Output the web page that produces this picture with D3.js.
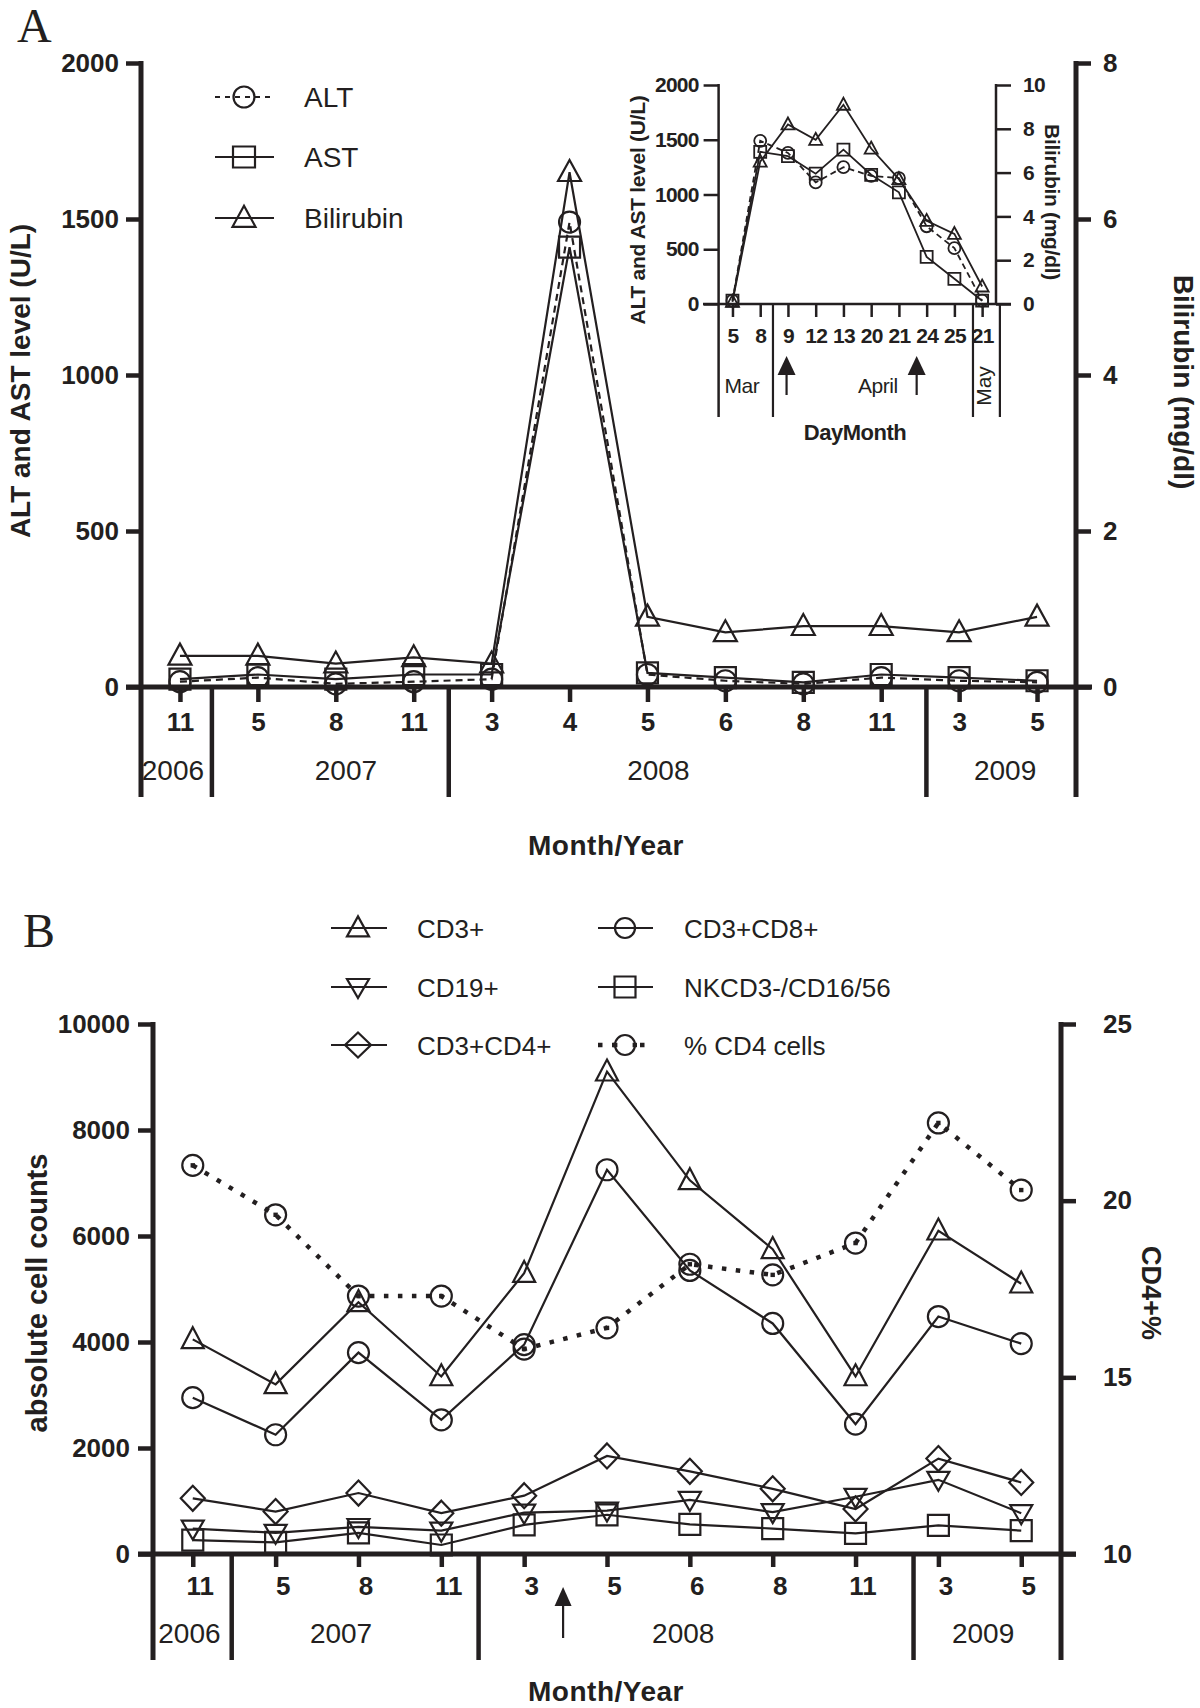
<!DOCTYPE html>
<html><head><meta charset="utf-8">
<script src="https://cdn.jsdelivr.net/npm/d3@7"></script>
<style>
body{margin:0;background:#fff}
svg{display:block}
text{font-family:"Liberation Sans",Arial,Helvetica,sans-serif;fill:#231f20}
</style>
</head><body>
<svg id="chart" width="1200" height="1708"></svg>
<script>
// ---------- DATA ----------
// Panel A (main)
const monthsA = ["11","5","8","11","3","4","5","6","8","11","3","5"];
const yearsA = ["2006","2007","2008","2009"];
const altA  = [17,30,10,17,25,1490,40,20,10,30,20,15];
const astA  = [25,40,25,40,40,1410,45,30,15,40,30,20];
const biliA = [0.4,0.4,0.3,0.38,0.3,6.6,0.9,0.7,0.78,0.78,0.7,0.9];
const ticksA = [0,500,1000,1500,2000];
const ticksABili = [0,2,4,6,8];
const legendA = ["ALT","AST","Bilirubin"];

// Panel A (inset)
const daysInset = ["5","8","9","12","13","20","21","24","25","21"];
const monthsInset = ["Mar","April","May"];
const altInset  = [30,1490,1380,1110,1250,1170,1150,710,510,30];
const astInset  = [30,1390,1350,1190,1410,1180,1020,430,230,30];
const biliInset = [0.1,6.5,8.2,7.5,9.1,7.1,5.7,3.8,3.2,0.8];
const ticksInset = [0,500,1000,1500,2000];
const ticksInsetBili = [0,2,4,6,8,10];

// Panel B
const monthsB = ["11","5","8","11","3","5","6","8","11","3","5"];
const yearsB = ["2006","2007","2008","2009"];
const cd3    = [4050,3200,4750,3350,5300,9100,7050,5750,3350,6100,5100];
const cd8    = [2950,2250,3800,2530,3950,7250,5350,4350,2450,4480,3970];
const cd4    = [1050,800,1150,770,1100,1850,1560,1230,850,1800,1350];
const cd19   = [480,400,510,440,780,820,1020,790,1080,1400,770];
const nk     = [260,220,400,170,550,740,560,480,390,540,440];
const cd4pct = [21.0,19.6,17.3,17.3,15.8,16.4,18.2,17.9,18.8,22.2,20.3];
const ticksB = [0,2000,4000,6000,8000,10000];
const ticksPct = [10,15,20,25];
const legendB = ["CD3+","CD19+","CD3+CD4+","CD3+CD8+","NKCD3-/CD16/56","% CD4 cells"];

// ---------- HELPERS ----------
const INK = "#231f20";
const FONT = "'Liberation Sans', Arial, Helvetica, sans-serif";
const svg = d3.select("#chart");

function sym(type, x, y, w, h) {
  switch (type) {
    case "circle": { const r = w / 2; return `M${x - r},${y}a${r},${r} 0 1,0 ${2 * r},0a${r},${r} 0 1,0 ${-2 * r},0Z`; }
    case "square": return `M${x - w / 2},${y - h / 2}h${w}v${h}h${-w}Z`;
    case "up": return `M${x},${y - 0.58 * h}L${x + w / 2},${y + 0.42 * h}L${x - w / 2},${y + 0.42 * h}Z`;
    case "down": return `M${x},${y + 0.58 * h}L${x + w / 2},${y - 0.42 * h}L${x - w / 2},${y - 0.42 * h}Z`;
    case "diamond": return `M${x},${y - h / 2}L${x + w / 2},${y}L${x},${y + h / 2}L${x - w / 2},${y}Z`;
  }
}
function seriesLine(g, vals, xs, ys, lw, dash) {
  g.append("path")
    .attr("d", d3.line().x((d, i) => xs(i)).y(d => ys(d))(vals))
    .attr("fill", "none").attr("stroke", INK).attr("stroke-width", lw)
    .attr("stroke-dasharray", dash || null).attr("stroke-linejoin", "miter");
}
function seriesMarks(g, vals, xs, ys, type, w, h, mw) {
  g.selectAll(null).data(vals).join("path")
    .attr("d", (d, i) => sym(type, xs(i), ys(d), w, h))
    .attr("fill", "none").attr("stroke", INK).attr("stroke-width", mw);
}
function line(x1, y1, x2, y2, w) {
  return svg.append("line").attr("x1", x1).attr("y1", y1).attr("x2", x2).attr("y2", y2)
    .attr("stroke", INK).attr("stroke-width", w);
}
function styleAxis(sel, fs, weight, tw, ls) {
  sel.attr("font-family", FONT).attr("font-size", fs);
  sel.select(".domain").remove();
  sel.selectAll(".tick line").attr("stroke", INK).attr("stroke-width", tw);
  sel.selectAll(".tick text").attr("fill", INK).style("font-weight", weight)
    .style("letter-spacing", ls ? ls + "px" : null);
}
function label(x, y, txt, fs, weight, anchor, rot, extra) {
  const t = svg.append("text").attr("font-size", fs).attr("font-weight", weight || "normal")
    .attr("text-anchor", anchor || "middle").text(txt);
  if (rot) t.attr("transform", `translate(${x},${y}) rotate(${rot})`).attr("dy", "0.35em");
  else t.attr("x", x).attr("y", y);
  if (extra) extra(t);
  return t;
}
function arrow(x, yb, yt, hw, hh, lw) {
  line(x, yb, x, yt + hh - 1, lw);
  svg.append("path").attr("d", `M${x},${yt}L${x + hw / 2},${yt + hh}L${x - hw / 2},${yt + hh}Z`).attr("fill", INK);
}

// ---------- PANEL A MAIN ----------
const xA = d3.scalePoint().domain(d3.range(monthsA.length)).range([141, 1076]).padding(0.5);
const yA = d3.scaleLinear().domain([0, 2000]).range([687, 63]);
const yABili = d3.scaleLinear().domain([0, 8]).range([687, 63]);
const stepA = xA.step();

label(17, 42, "A", 48, "normal", "start", 0, t => t.style("font-family", "'Liberation Serif', 'Times New Roman', serif"));

line(141, 61, 141, 797, 5);
line(1076, 61, 1076, 797, 5);
line(126, 687, 1092, 687, 5);
[0.41, 3.45, 9.58].forEach(k => line(xA(0) + stepA * k, 687, xA(0) + stepA * k, 797, 4.5));

svg.append("g").attr("transform", "translate(141,0)")
  .call(d3.axisLeft(yA).tickValues(ticksA).tickSize(15).tickPadding(7).tickFormat(d3.format("d")))
  .call(s => styleAxis(s, 26, "bold", 4.5));
svg.append("g").attr("transform", "translate(1076,0)")
  .call(d3.axisRight(yABili).tickValues(ticksABili).tickSize(15).tickPadding(12))
  .call(s => styleAxis(s, 26, "bold", 4.5));
svg.append("g").attr("transform", "translate(0,687)")
  .call(d3.axisBottom(xA).tickSize(15).tickPadding(11).tickFormat(i => monthsA[i]))
  .call(s => styleAxis(s, 26, "bold", 4.5));

[-0.09, 2.13, 6.14, 10.59].forEach((k, i) => label(xA(0) + stepA * k, 780, yearsA[i], 28, "normal"));

label(606, 855, "Month/Year", 28, "bold", "middle", 0, t => t.style("letter-spacing", "0.5px"));
label(20, 381, "ALT and AST level (U/L)", 28, "bold", "middle", -90);
label(1184, 382, "Bilirubin (mg/dl)", 28, "bold", "middle", 90);

const gA = svg.append("g");
seriesLine(gA, altA, xA, yA, 2.2, "7 5");
seriesLine(gA, astA, xA, yA, 2.2);
seriesLine(gA, biliA, xA, yABili, 2.2);
seriesMarks(gA, biliA, xA, yABili, "up", 23, 21, 2.2);
seriesMarks(gA, astA, xA, yA, "square", 21, 21, 2.2);
seriesMarks(gA, altA, xA, yA, "circle", 21, 21, 2.2);

// legend A
const legRowsA = [97, 157, 218];
const legTypesA = [["circle", 21, 21, "5 5"], ["square", 22, 21, null], ["up", 23, 21, null]];
legendA.forEach((name, i) => {
  const y = legRowsA[i], t = legTypesA[i];
  const ln = line(215, y, 274, y, 2.2);
  if (t[3]) ln.attr("stroke-dasharray", t[3]);
  svg.append("path").attr("d", sym(t[0], 244, y, t[1], t[2])).attr("fill", "none").attr("stroke", INK).attr("stroke-width", 2.2);
  label(304, y + 10, name, 28, "normal", "start");
});

// ---------- PANEL A INSET ----------
const xI = d3.scalePoint().domain(d3.range(daysInset.length)).range([718.6, 996]).padding(0.5);
const yI = d3.scaleLinear().domain([0, 2000]).range([304, 85]);
const yIBili = d3.scaleLinear().domain([0, 10]).range([304, 85]);
const stepI = xI.step();

line(718.6, 84, 718.6, 417, 2.5);
line(996, 84, 996, 304, 2.5);
line(703, 304, 1011, 304, 2.5);
[1.46, 8.67, 9.64].forEach(k => line(xI(0) + stepI * k, 304, xI(0) + stepI * k, 417, 2.2));

svg.append("g").attr("transform", "translate(718.6,0)")
  .call(d3.axisLeft(yI).tickValues(ticksInset).tickSize(15).tickPadding(5).tickFormat(d3.format("d")))
  .call(s => styleAxis(s, 21, "bold", 2.5, -0.8));
svg.append("g").attr("transform", "translate(996,0)")
  .call(d3.axisRight(yIBili).tickValues(ticksInsetBili).tickSize(15).tickPadding(12))
  .call(s => styleAxis(s, 21, "bold", 2.5, -0.8));
svg.append("g").attr("transform", "translate(0,304)")
  .call(d3.axisBottom(xI).tickSize(13).tickPadding(11).tickFormat(i => daysInset[i]))
  .call(s => styleAxis(s, 21, "bold", 2.5, -0.8));

label(xI(0) + stepI * 0.34, 393, monthsInset[0], 21, "normal", "middle", 0, t => t.style("letter-spacing", "-0.5px"));
label(xI(0) + stepI * 5.24, 393, monthsInset[1], 21, "normal", "middle", 0, t => t.style("letter-spacing", "-0.5px"));
label(xI(0) + stepI * 9.07, 386, monthsInset[2], 21, "normal", "middle", -90);

arrow(xI(0) + stepI * 1.95, 395, 356, 18, 19, 2.2);
arrow(xI(0) + stepI * 6.64, 395, 356, 18, 19, 2.2);

label(855, 440, "DayMonth", 22, "bold", "middle", 0, t => t.style("letter-spacing", "-0.5px"));
label(638, 210, "ALT and AST level (U/L)", 21, "bold", "middle", -90, t => t.style("letter-spacing", "-0.3px"));
label(1052, 202, "Bilirubin (mg/dl)", 21, "bold", "middle", 90, t => t.style("letter-spacing", "-0.3px"));

const gI = svg.append("g");
seriesLine(gI, altInset, xI, yI, 1.8, "6 4");
seriesLine(gI, astInset, xI, yI, 1.8);
seriesLine(gI, biliInset, xI, yIBili, 1.8);
seriesMarks(gI, biliInset, xI, yIBili, "up", 13, 12, 1.8);
seriesMarks(gI, astInset, xI, yI, "square", 12, 12, 1.8);
seriesMarks(gI, altInset, xI, yI, "circle", 12, 12, 1.8);

// ---------- PANEL B ----------
const xB = d3.scalePoint().domain(d3.range(monthsB.length)).range([153, 1061]).padding(0.48);
const yB = d3.scaleLinear().domain([0, 10000]).range([1554, 1024]);
const yP = d3.scaleLinear().domain([10, 25]).range([1554, 1024]);
const stepB = xB.step();

label(23, 947, "B", 48, "normal", "start", 0, t => t.style("font-family", "'Liberation Serif', 'Times New Roman', serif"));

line(153, 1022, 153, 1660, 5);
line(1061, 1022, 1061, 1660, 5);
line(138, 1554, 1076, 1554, 5);
[0.47, 3.45, 8.70].forEach(k => line(xB(0) + stepB * k, 1554, xB(0) + stepB * k, 1660, 4.5));

svg.append("g").attr("transform", "translate(153,0)")
  .call(d3.axisLeft(yB).tickValues(ticksB).tickSize(15).tickPadding(8).tickFormat(d3.format("d")))
  .call(s => styleAxis(s, 26, "bold", 4.5));
svg.append("g").attr("transform", "translate(1061,0)")
  .call(d3.axisRight(yP).tickValues(ticksPct).tickSize(15).tickPadding(27))
  .call(s => styleAxis(s, 26, "bold", 4.5));
svg.append("g").attr("transform", "translate(0,1554)")
  .call(d3.axisBottom(xB).tickSize(13).tickPadding(10).tickFormat(i => monthsB[i]))
  .call(s => { styleAxis(s, 26, "bold", 4.5); s.selectAll(".tick text").attr("dx", 7); });

[-0.04, 1.79, 5.92, 9.54].forEach((k, i) => label(xB(0) + stepB * k, 1643, yearsB[i], 28, "normal"));
arrow(xB(0) + stepB * 4.47, 1638, 1587, 17, 19, 2.2);

label(606, 1701, "Month/Year", 28, "bold", "middle", 0, t => t.style("letter-spacing", "0.5px"));
label(37, 1293, "absolute cell counts", 29, "bold", "middle", -90);
label(1151, 1293, "CD4+%", 27, "bold", "middle", 90);

const gB = svg.append("g");
seriesLine(gB, cd4pct, xB, yP, 4.5, "4.5 9.5");
seriesLine(gB, cd3, xB, yB, 2.2);
seriesLine(gB, cd8, xB, yB, 2.2);
seriesLine(gB, cd4, xB, yB, 2.2);
seriesLine(gB, cd19, xB, yB, 2.2);
seriesLine(gB, nk, xB, yB, 2.2);
seriesMarks(gB, cd3, xB, yB, "up", 22, 21, 2.2);
seriesMarks(gB, cd8, xB, yB, "circle", 21, 21, 2.2);
seriesMarks(gB, cd4, xB, yB, "diamond", 24, 25, 2.2);
seriesMarks(gB, cd19, xB, yB, "down", 22, 19, 2.2);
seriesMarks(gB, nk, xB, yB, "square", 21, 21, 2.2);
seriesMarks(gB, cd4pct, xB, yP, "circle", 21, 21, 2.2);
gB.selectAll(null).data(cd4pct).join("rect")
  .attr("x", (d, i) => xB(i) - 2.2).attr("y", d => yP(d) - 2.2)
  .attr("width", 4.4).attr("height", 4.4).attr("fill", INK);

// legend B
const legRowsB = [928, 987, 1045];
const legColsB = [{l: 331, r: 387, m: 358, t: 417}, {l: 598, r: 653, m: 625, t: 684}];
const legTypesB = [["up", 22, 20], ["down", 22, 19], ["diamond", 26, 25], ["circle", 20, 20], ["square", 21, 21], ["circle", 20, 20]];
legendB.forEach((name, i) => {
  const c = legColsB[Math.floor(i / 3)], y = legRowsB[i % 3], t = legTypesB[i];
  if (i === 5) {
    line(c.l, y, c.r, y, 4.5).attr("stroke-dasharray", "4.5 9.5");
  } else {
    line(c.l, y, c.r, y, 2.2);
  }
  svg.append("path").attr("d", sym(t[0], c.m, y, t[1], t[2])).attr("fill", i === 5 ? "#fff" : "none")
    .attr("stroke", INK).attr("stroke-width", 2.2);
  if (i === 5) {
    svg.append("rect").attr("x", c.m - 12).attr("y", y - 2.2).attr("width", 4.4).attr("height", 4.4).attr("fill", INK);
    svg.append("rect").attr("x", c.m + 7.6).attr("y", y - 2.2).attr("width", 4.4).attr("height", 4.4).attr("fill", INK);
  }
  label(c.t, y + 9.5, name, 26, "normal", "start");
});
</script>
</body></html>
